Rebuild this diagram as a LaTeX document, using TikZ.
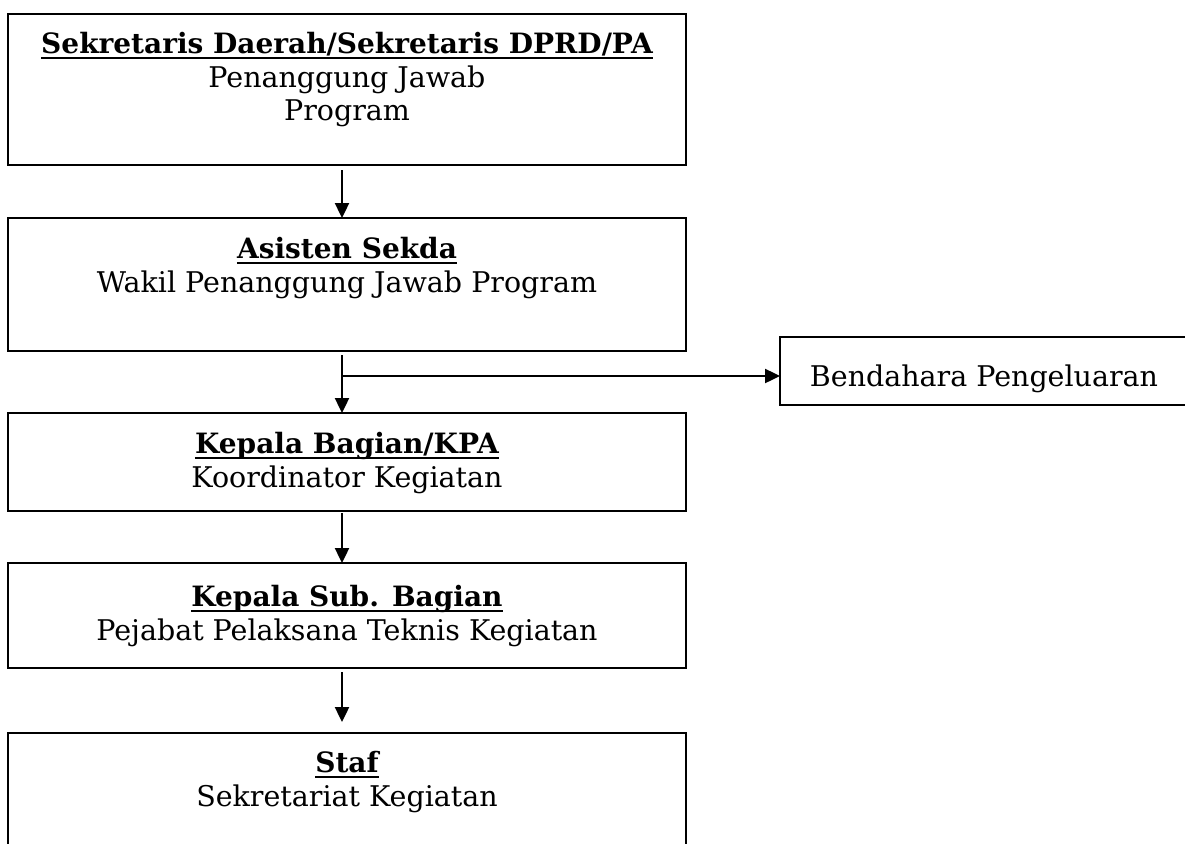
\documentclass[tikz,border=0pt]{standalone}
\usepackage{fontspec}
\setmainfont{DejaVu Serif}
\usetikzlibrary{arrows.meta}
\tikzset{
  box/.style={draw=none,minimum width=678pt,inner sep=0pt,outer sep=0pt,anchor=north west},
  border/.style={line width=2.3pt},
  ttl/.style={font=\fontsize{28}{34}\selectfont\bfseries,inner sep=0pt,anchor=base},
  sub/.style={font=\fontsize{28.5}{34}\selectfont,inner sep=0pt,anchor=base},
  conn/.style={line width=2.4pt,-{Triangle[length=15pt,width=14pt]}},
  uline/.style={line width=1.8pt},
}
\begin{document}
\begin{tikzpicture}[x=1pt,y=-1pt]
\useasboundingbox (0,0) rectangle (1185,843);
\clip (0,0) rectangle (1185,843);
% boxes
\node[box,minimum height=151pt] (b1) at (8,14) {};
\node[box,minimum height=133pt] (b2) at (8,218) {};
\node[box,minimum height=98pt] (b3) at (8,413) {};
\node[box,minimum height=105pt] (b4) at (8,563) {};
\node[box,minimum height=140pt] (b5) at (8,733) {};
\node[draw=none,minimum width=440pt,minimum height=68pt,inner sep=0pt,outer sep=0pt,anchor=north west] (bp) at (780,337) {};
\foreach \b in {b1,b2,b3,b4,b5,bp}{\draw[border] (\b.north west) rectangle (\b.south east);}
% texts
\node[ttl] (t1) at (347,53) {Sekretaris Daerah/Sekretaris DPRD/PA};
\node[sub] (s1a) at (347,87) {Penanggung Jawab};
\node[sub] (s1b) at (347,120) {Program};
\node[ttl] (t2) at (347,258) {Asisten Sekda};
\node[sub] (s2) at (347,292) {Wakil Penanggung Jawab Program};
\node[sub] (bt) at (984,386) {Bendahara Pengeluaran};
\node[ttl] (t3) at (347,453) {Kepala Bagian/KPA};
\node[sub] (s3) at (347,487) {Koordinator Kegiatan};
\node[ttl] (t4) at (347,606) {Kepala Sub. Bagian};
\node[sub] (s4) at (347,640) {Pejabat Pelaksana Teknis Kegiatan};
\node[ttl] (t5) at (347,772) {Staf};
\node[sub] (s5) at (347,806) {Sekretariat Kegiatan};
\foreach \t in {t1,t2,t3,t4,t5}{\draw[uline] ([yshift=-5pt]\t.base west) -- ([yshift=-5pt]\t.base east);}
% connectors
\coordinate (j) at (342,376);
\draw[conn] ([xshift=-5pt,yshift=-5pt]b1.south) -- ([xshift=-5pt]b2.north);
\draw[line width=2.4pt] ([xshift=-5pt,yshift=-4pt]b2.south) -- (j);
\draw[conn] (j) -- ([xshift=-5pt]b3.north);
\draw[conn] (j) -- (bp.west|-j);
\draw[conn] ([xshift=-5pt,yshift=-2pt]b3.south) -- ([xshift=-5pt]b4.north);
\draw[conn] ([xshift=-5pt,yshift=-4pt]b4.south) -- ([xshift=-5pt,yshift=11pt]b5.north);
\end{tikzpicture}
\end{document}
